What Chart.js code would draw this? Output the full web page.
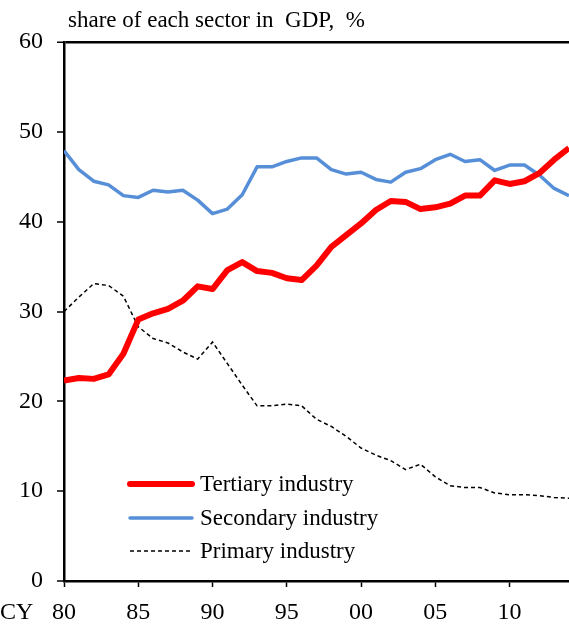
<!DOCTYPE html>
<html>
<head>
<meta charset="utf-8">
<script src="https://cdn.jsdelivr.net/npm/chart.js@4/dist/chart.umd.min.js"></script>
<style>
  html, body { margin: 0; padding: 0; background: #fff; }
  #wrap { width: 569px; height: 628px; position: relative; }
</style>
</head>
<body>
<div id="wrap"><canvas id="gdpChart"></canvas></div>
<script>
// ===== DATA =====
const years = [1980, 1981, 1982, 1983, 1984, 1985, 1986, 1987, 1988, 1989,
               1990, 1991, 1992, 1993, 1994, 1995, 1996, 1997, 1998, 1999,
               2000, 2001, 2002, 2003, 2004, 2005, 2006, 2007, 2008, 2009,
               2010, 2011, 2012, 2013, 2014];
const tertiary = [22.3, 22.6, 22.5, 23.0, 25.3, 29.1, 29.8, 30.3, 31.2, 32.8,
                  32.5, 34.6, 35.5, 34.5, 34.3, 33.7, 33.5, 35.1, 37.2, 38.5,
                  39.8, 41.3, 42.3, 42.2, 41.4, 41.6, 42.0, 42.9, 42.9, 44.6,
                  44.2, 44.5, 45.4, 46.9, 48.2];
const secondary = [47.9, 45.8, 44.5, 44.1, 42.9, 42.7, 43.5, 43.3, 43.5, 42.4,
                   40.9, 41.4, 43.0, 46.1, 46.1, 46.7, 47.1, 47.1, 45.8, 45.3,
                   45.5, 44.7, 44.4, 45.5, 45.9, 46.9, 47.5, 46.7, 46.9, 45.7,
                   46.3, 46.3, 45.2, 43.7, 42.9];
const primary = [30.0, 31.6, 33.1, 32.9, 31.7, 28.3, 27.0, 26.5, 25.5, 24.7,
                 26.6, 24.2, 21.8, 19.5, 19.5, 19.7, 19.5, 18.0, 17.2, 16.1,
                 14.8, 14.0, 13.4, 12.4, 13.0, 11.6, 10.6, 10.4, 10.4, 9.8,
                 9.6, 9.6, 9.5, 9.3, 9.2];
const yTicks = [0, 10, 20, 30, 40, 50, 60];
const xTicks = [1980, 1985, 1990, 1995, 2000, 2005, 2010];

const SERIF = '"Liberation Serif", "Times New Roman", serif';

function toPoints(vals) {
    return years.map((yr, i) => ({ x: yr, y: vals[i] }));
}

// ===== PLUGINS =====
// legend drawn inside the plot, lower left
const innerLegend = {
    id: 'innerLegend',
    afterDatasetsDraw(chart) {
        const c = chart.ctx;
        const x0 = 130, x1 = 192, tx = 200;
        const rows = [484, 518, 551];
        c.save();
        c.font = '23px ' + SERIF;
        c.fillStyle = '#000';
        c.textBaseline = 'middle';
        chart.data.datasets.forEach((ds, i) => {
            c.beginPath();
            c.strokeStyle = ds.borderColor;
            c.lineWidth = ds.borderWidth;
            c.lineCap = ds.borderDash ? 'butt' : 'round';
            c.setLineDash(ds.borderDash || []);
            c.moveTo(x0, rows[i]);
            c.lineTo(x1, rows[i]);
            c.stroke();
            c.setLineDash([]);
            c.fillText(ds.label, tx, rows[i] + 1);
        });
        c.restore();
    }
};

// title text above the plot and "CY" before the year labels
const extraText = {
    id: 'extraText',
    afterDraw(chart) {
        const c = chart.ctx;
        c.save();
        c.fillStyle = '#000';
        c.font = '23px ' + SERIF;
        c.textBaseline = 'alphabetic';
        c.textAlign = 'left';
        c.fillText('share of each sector in  GDP,  %', 68, 27);
        c.font = '24px ' + SERIF;
        c.textBaseline = 'middle';
        c.fillText('CY', 0, 613);
        c.restore();
    }
};

// ===== CHART =====
const ctx = document.getElementById('gdpChart').getContext('2d');
new Chart(ctx, {
    type: 'line',
    data: {
        datasets: [
            {
                label: 'Tertiary industry',
                data: toPoints(tertiary),
                borderColor: '#ff0000',
                borderWidth: 6,
                pointRadius: 0,
                tension: 0,
                borderJoinStyle: 'round'
            },
            {
                label: 'Secondary industry',
                data: toPoints(secondary),
                borderColor: '#568fd7',
                borderWidth: 3.5,
                pointRadius: 0,
                tension: 0,
                borderJoinStyle: 'round'
            },
            {
                label: 'Primary industry',
                data: toPoints(primary),
                borderColor: '#000000',
                borderWidth: 1.5,
                borderDash: [4, 3],
                pointRadius: 0,
                tension: 0
            }
        ]
    },
    options: {
        responsive: true,
        maintainAspectRatio: false,
        animation: false,
        layout: { padding: { top: 42, right: 0, left: 0, bottom: 0 } },
        plugins: {
            legend: { display: false },
            tooltip: { enabled: false }
        },
        scales: {
            x: {
                type: 'linear',
                min: years[0],
                max: years[years.length - 1],
                afterBuildTicks(scale) {
                    scale.ticks = xTicks.map(v => ({ value: v }));
                },
                afterFit(scale) { scale.height = 47; },
                grid: {
                    drawOnChartArea: false,
                    drawTicks: true,
                    tickLength: 6,
                    tickColor: '#000',
                    tickWidth: 1.5
                },
                border: { color: '#000', width: 2.5 },
                ticks: {
                    color: '#000',
                    font: { family: SERIF, size: 24 },
                    padding: 11,
                    maxRotation: 0,
                    callback: v => String(v).slice(2)
                }
            },
            y: {
                min: 0,
                max: 60,
                afterBuildTicks(scale) {
                    scale.ticks = yTicks.map(v => ({ value: v }));
                },
                afterFit(scale) { scale.width = 64; },
                grid: {
                    drawTicks: true,
                    tickLength: 7,
                    tickColor: '#000',
                    tickWidth: 1.5,
                    lineWidth: c => (c.tick && c.tick.value === 60 ? 2.5 : 0),
                    color: c => (c.tick && c.tick.value === 60 ? '#000' : 'rgba(0,0,0,0)')
                },
                border: { color: '#000', width: 2.5 },
                ticks: {
                    color: '#000',
                    font: { family: SERIF, size: 24 },
                    padding: 14
                }
            }
        }
    },
    plugins: [innerLegend, extraText]
});
</script>
</body>
</html>
